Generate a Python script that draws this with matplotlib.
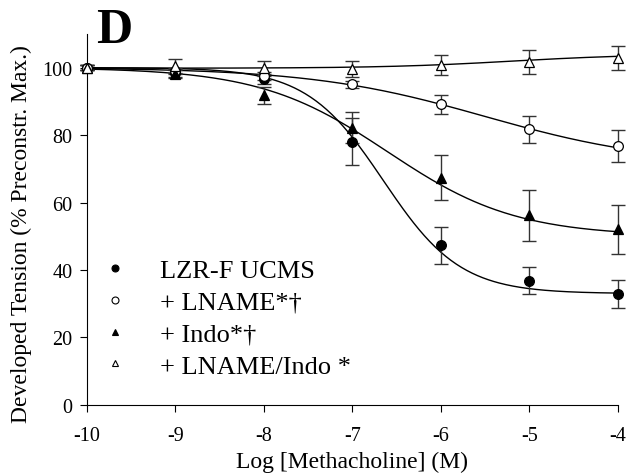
import numpy as np
import matplotlib.pyplot as plt

plt.rcParams["font.family"] = ["Liberation Serif", "DejaVu Serif"]
plt.rcParams["axes.unicode_minus"] = False

# Log [Methacholine] (M)
log_mch = [-10, -9, -8, -7, -6, -5, -4]

# Mean developed tension (% preconstriction max.) and SEM for each group
ucms = [100, 98.5, 96.5, 78, 47.3, 36.8, 32.8]
ucms_err = [0.8, 1.2, 1.5, 7.0, 5.4, 4.0, 4.1]

lname = [100, 99.0, 97.6, 95.0, 89.1, 81.7, 76.7]
lname_err = [0.8, 1.0, 1.2, 1.0, 2.9, 4.0, 4.7]

indo = [100, 98.0, 91.8, 82.2, 67.4, 56.2, 52.0]
indo_err = [0.8, 1.2, 2.5, 4.5, 6.8, 7.5, 7.2]

lname_indo = [100, 100.5, 99.8, 99.6, 100.7, 101.7, 102.9]
lname_indo_err = [0.8, 2.0, 2.2, 2.3, 2.9, 3.6, 3.5]

# Four-parameter logistic fits: (top, bottom, logEC50, Hill slope)
ucms_fit = (100, 33, -6.65, 1.0)
lname_fit = (100, 71, -5.5, 0.44)
indo_fit = (100, 50, -6.6, 0.6)
lname_indo_fit = (99.8, 104, -5.2, 0.6)

labels = ["LZR-F UCMS", "+ LNAME*\u2020", "+ Indo*\u2020", "+ LNAME/Indo *"]


def logistic(x, top, bottom, ec50, hill):
    return bottom + (top - bottom) / (1 + 10 ** (hill * (x - ec50)))


fig = plt.figure(figsize=(6.39, 4.77), dpi=100)
ax = fig.add_axes([0.136, 0.149, 0.831, 0.778])

xs = np.linspace(-10, -4, 300)
groups = [
    (ucms, ucms_err, ucms_fit, "o", "black"),
    (lname, lname_err, lname_fit, "o", "white"),
    (indo, indo_err, indo_fit, "^", "black"),
    (lname_indo, lname_indo_err, lname_indo_fit, "^", "white"),
]

handles = []
for (vals, errs, fit, marker, face), label in zip(groups, labels):
    ax.plot(xs, logistic(xs, *fit), color="black", lw=1.0, zorder=2)
    ax.errorbar(log_mch, vals, yerr=errs, fmt="none", ecolor="#333333",
                elinewidth=1.0, capsize=5, capthick=1.0, zorder=3,
                clip_on=False)
    ax.plot(log_mch, vals, linestyle="none", marker=marker, ms=7,
            mfc=face, mec="black", mew=0.9, zorder=4, clip_on=False)
    h, = ax.plot([], [], linestyle="none", marker=marker, ms=5,
                 mfc=face, mec="black", mew=0.8, label=label)
    handles.append(h)

ax.set_xlim(-10, -4)
ax.set_ylim(0, 110)
ax.set_yticks([0, 20, 40, 60, 80, 100])
ax.set_xticks(log_mch)
ax.spines["top"].set_visible(False)
ax.spines["right"].set_visible(False)
ax.tick_params(direction="out", length=5, width=0.8, labelsize=14.5)
ax.tick_params(axis="x", pad=10.5)
ax.tick_params(axis="y", pad=5.5)
ax.set_xlabel("Log [Methacholine] (M)", fontsize=17, labelpad=3.5)
ax.set_ylabel("Developed Tension (% Preconstr. Max.)", fontsize=17)
ax.yaxis.set_label_coords(-0.104, 0.464)

ax.legend(handles=handles, loc="lower left", bbox_to_anchor=(0.009, 0.045),
          frameon=False, fontsize=19, handlelength=1.0, handletextpad=1.2,
          labelspacing=0.32, borderaxespad=0)

fig.text(0.15, 0.91, "D", fontsize=36, fontweight="bold")

fig.savefig("out.png", dpi=100)
